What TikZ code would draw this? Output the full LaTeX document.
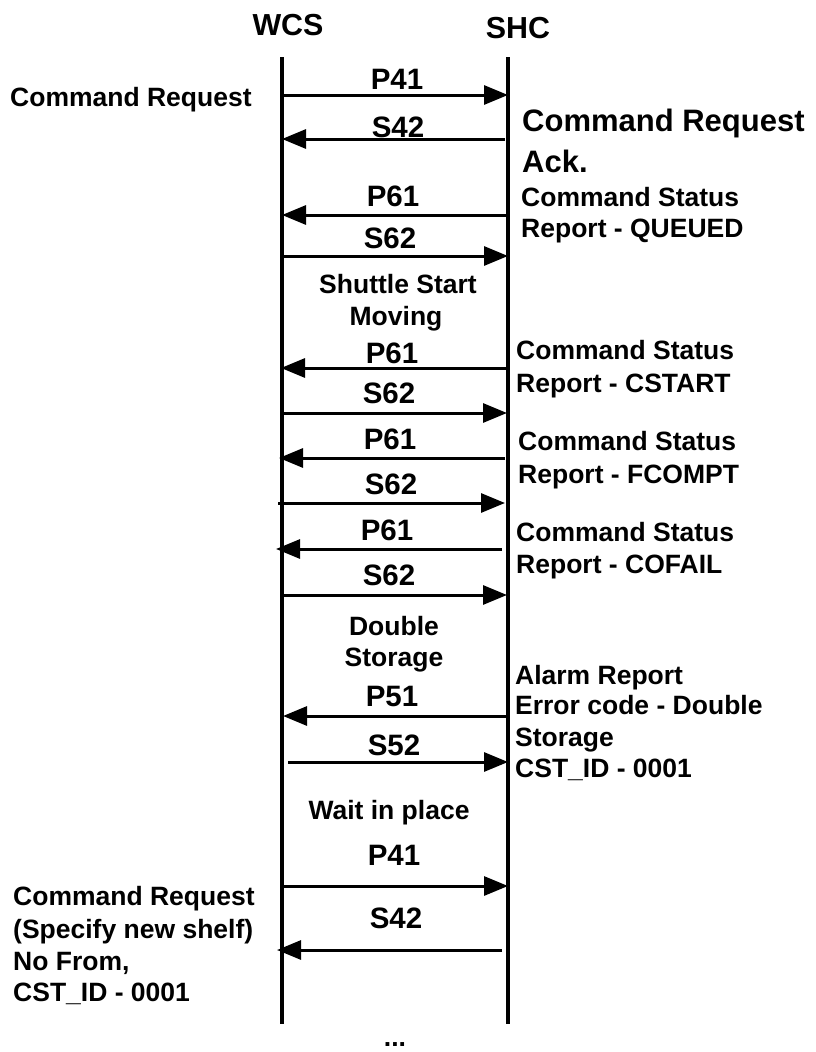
\documentclass[tikz,border=0pt]{standalone}
\usepackage{fontspec}
\setmainfont{Liberation Sans}
\usetikzlibrary{arrows.meta}
\tikzset{
  life/.style={line width=4.5pt},
  msg/.style={line width=3pt,-{Triangle[length=24pt,width=19pt]}},
  head/.style={font=\fontsize{30.4}{36}\selectfont\bfseries,anchor=base,inner sep=0pt},
  lbl/.style={font=\fontsize{29.5}{35}\selectfont\bfseries,anchor=base,inner sep=0pt},
  note/.style={font=\fontsize{26.5}{31}\selectfont\bfseries,anchor=base west,inner sep=0pt},
  cnote/.style={font=\fontsize{26.5}{31}\selectfont\bfseries,anchor=base,inner sep=0pt},
  bignote/.style={font=\fontsize{31}{37}\selectfont\bfseries,anchor=base west,inner sep=0pt},
}
\begin{document}
\begin{tikzpicture}[x=1pt,y=-1pt]
\fill[white] (0,0) rectangle (816,1052);
\useasboundingbox (0,0) rectangle (816,1052);

% headers
\node[head] (wcs) at (288,35) {WCS};
\node[head] (shc) at (518,38) {SHC};

% lifelines
\coordinate (wtop) at (282,57);
\coordinate (wbot) at (282,1024);
\coordinate (stop) at (508,57);
\coordinate (sbot) at (508,1024);
\draw[life] (wtop) -- (wbot);
\draw[life] (stop) -- (sbot);

% message end points
\coordinate (w1) at (284,95);  \coordinate (s1) at (508,95);
\coordinate (w2) at (282,139); \coordinate (s2) at (505,139);
\coordinate (w3) at (282,215); \coordinate (s3) at (506,215);
\coordinate (w4) at (282,256); \coordinate (s4) at (508,256);
\coordinate (w5) at (281,368); \coordinate (s5) at (506,368);
\coordinate (w6) at (282,413); \coordinate (s6) at (507,413);
\coordinate (w7) at (279,458); \coordinate (s7) at (505,458);
\coordinate (w8) at (278,503); \coordinate (s8) at (505,503);
\coordinate (w9) at (276,549); \coordinate (s9) at (502,549);
\coordinate (w10) at (282,595); \coordinate (s10) at (507,595);
\coordinate (w11) at (283,716); \coordinate (s11) at (507,716);
\coordinate (w12) at (288,762); \coordinate (s12) at (508,762);
\coordinate (w13) at (282,886); \coordinate (s13) at (508,886);
\coordinate (w14) at (277,950); \coordinate (s14) at (502,950);

\draw[msg] (w1) -- (s1);
\draw[msg] (s2) -- (w2);
\draw[msg] (s3) -- (w3);
\draw[msg] (w4) -- (s4);
\draw[msg] (s5) -- (w5);
\draw[msg] (w6) -- (s6);
\draw[msg] (s7) -- (w7);
\draw[msg] (w8) -- (s8);
\draw[msg] (s9) -- (w9);
\draw[msg] (w10) -- (s10);
\draw[msg] (s11) -- (w11);
\draw[msg] (w12) -- (s12);
\draw[msg] (w13) -- (s13);
\draw[msg] (s14) -- (w14);

% message labels
\node[lbl] (m1) at (397,89) {P41};
\node[lbl] (m2) at (398,137) {S42};
\node[lbl] (m3) at (393,206) {P61};
\node[lbl] (m4) at (390,248) {S62};
\node[lbl] (m5) at (392,363) {P61};
\node[lbl] (m6) at (389,403) {S62};
\node[lbl] (m7) at (390,449) {P61};
\node[lbl] (m8) at (391,494) {S62};
\node[lbl] (m9) at (387,540) {P61};
\node[lbl] (m10) at (389,585) {S62};
\node[lbl] (m11) at (392,706) {P51};
\node[lbl] (m12) at (394,755) {S52};
\node[lbl] (m13) at (394,865) {P41};
\node[lbl] (m14) at (396,928) {S42};

% centre notes
\node[cnote] (c1a) at (398,293) {Shuttle Start};
\node[cnote] (c1b) at (396,325) {Moving};
\node[cnote] (c2a) at (394,635) {Double};
\node[cnote] (c2b) at (394,666) {Storage};
\node[cnote] (c3) at (389,819) {Wait in place};
\node[cnote] (dots) at (395,1046) {...};

% left notes
\node[note] (l1) at (10,106) {Command Request};
\node[note] (l2a) at (13,905) {Command Request};
\node[note] (l2b) at (13,938) {(Specify new shelf)};
\node[note] (l2c) at (13,970) {No From,};
\node[note] (l2d) at (13,1001) {CST\_ID - 0001};

% right notes
\node[bignote] (r1a) at (522,131) {Command Request};
\node[bignote] (r1b) at (522,172) {Ack.};
\node[note] (r2a) at (521,206) {Command Status};
\node[note] (r2b) at (521,237) {Report - QUEUED};
\node[note] (r3a) at (516,359) {Command Status};
\node[note] (r3b) at (516,392) {Report - CSTART};
\node[note] (r4a) at (518,450) {Command Status};
\node[note] (r4b) at (518,483) {Report - FCOMPT};
\node[note] (r5a) at (516,541) {Command Status};
\node[note] (r5b) at (516,573) {Report - COFAIL};
\node[note] (r6a) at (515,684) {Alarm Report};
\node[note] (r6b) at (515,714) {Error code - Double};
\node[note] (r6c) at (515,746) {Storage};
\node[note] (r6d) at (515,777) {CST\_ID - 0001};
\end{tikzpicture}
\end{document}
